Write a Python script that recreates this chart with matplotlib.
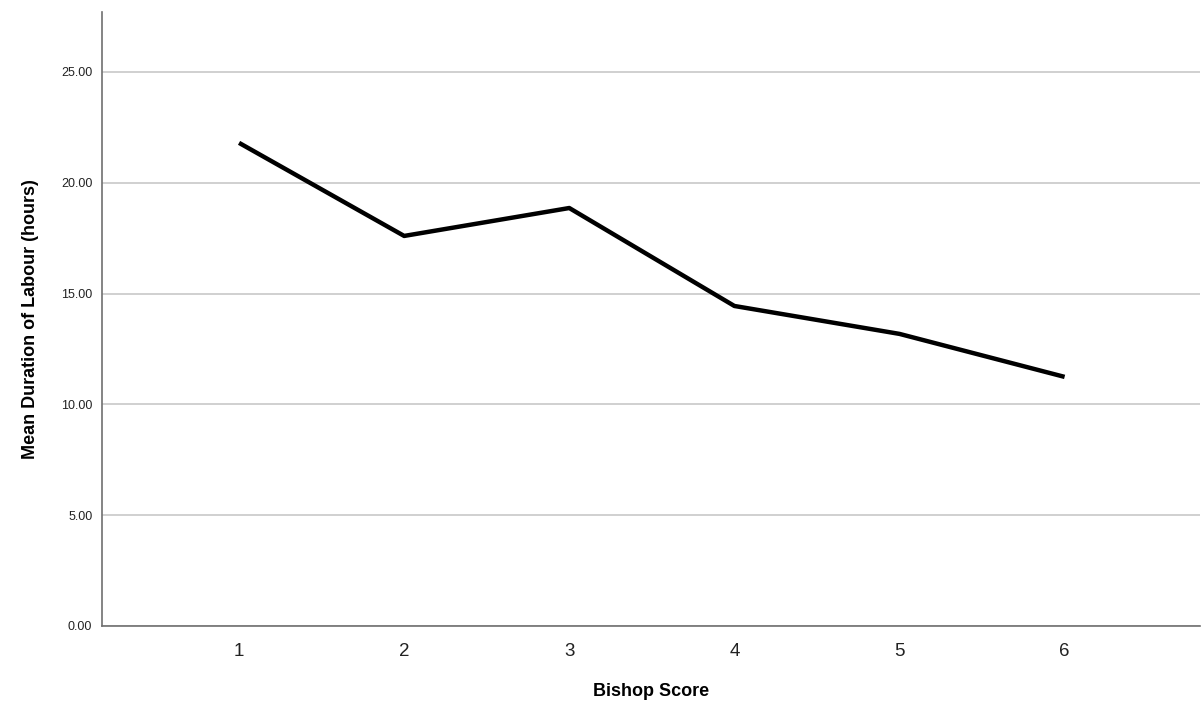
import matplotlib
matplotlib.use("Agg")
import matplotlib.pyplot as plt

plt.rcParams['font.family'] = ['Liberation Sans', 'DejaVu Sans']

bishop_score = [1, 2, 3, 4, 5, 6]
mean_duration = [21.8, 17.6, 18.86, 14.44, 13.18, 11.24]
y_ticks = [0, 5, 10, 15, 20, 25]

fig = plt.figure(figsize=(12.03, 7.12), dpi=100)
ax = fig.add_axes([0.0848, 0.1208, 0.9127, 0.8622])

ax.plot(bishop_score, mean_duration, color='black', linewidth=3.2,
        solid_capstyle='butt', zorder=3)

ax.set_xlim(0.17, 6.82)
ax.set_ylim(0, 27.7)
ax.set_yticks(y_ticks)
ax.set_yticklabels([f"{v:.2f}" for v in y_ticks], fontsize=9, color='#222222')
ax.set_xticks(bishop_score)
ax.set_xticklabels([str(v) for v in bishop_score], fontsize=13.5, color='#222222')
ax.tick_params(axis='y', length=0, pad=7)
ax.tick_params(axis='x', length=0, pad=12)

ax.grid(axis='y', color='#c8c8c8', linewidth=1.2)
ax.set_axisbelow(True)
for s in ['top', 'right']:
    ax.spines[s].set_visible(False)
for s in ['left', 'bottom']:
    ax.spines[s].set_color('#707070')
    ax.spines[s].set_linewidth(1.2)

ax.set_xlabel("Bishop Score", fontsize=13, fontweight='bold', labelpad=17)
ax.set_ylabel("Mean Duration of Labour (hours)", fontsize=13, fontweight='bold', labelpad=16)

fig.savefig("out.png", dpi=100)
